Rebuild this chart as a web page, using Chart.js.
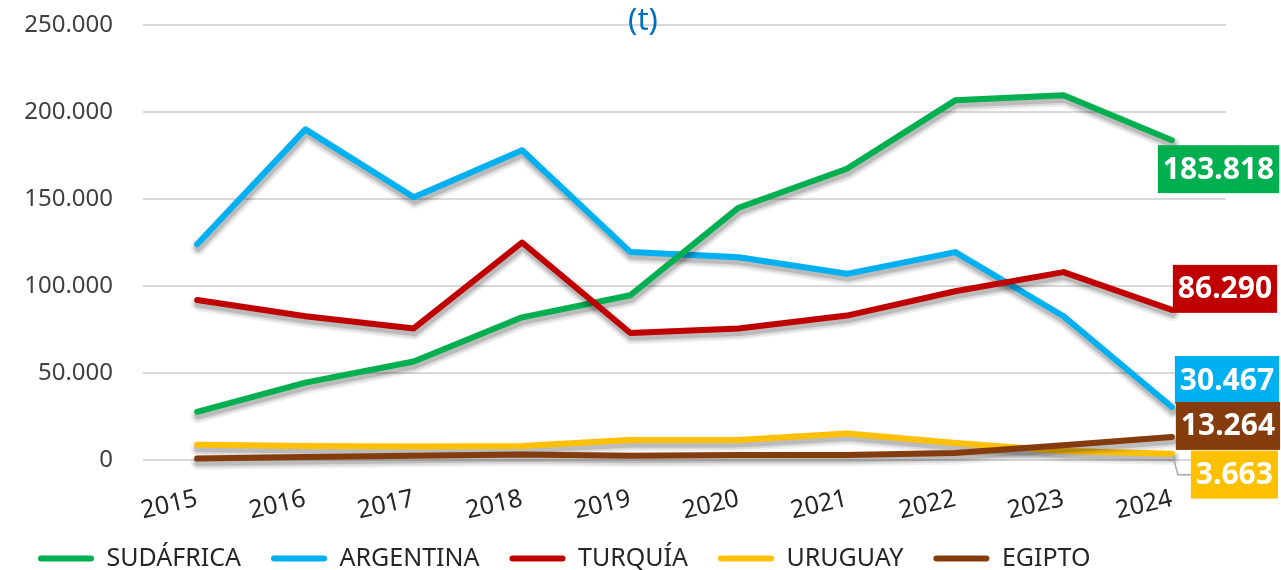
<!DOCTYPE html>
<html><head><meta charset="utf-8">
<script src="https://cdn.jsdelivr.net/npm/chart.js@4/dist/chart.umd.min.js"></script>
<style>html,body{margin:0;padding:0;background:#fff}#wrap{width:1281px;height:570px;position:relative}</style>
</head><body><div id="wrap"><canvas id="c"></canvas></div>
<script>
const years = ['2015','2016','2017','2018','2019','2020','2021','2022','2023','2024'];
const seriesNames = ['SUDÁFRICA','ARGENTINA','TURQUÍA','URUGUAY','EGIPTO'];
const sudafrica = [27700, 44500, 56600, 82000, 94700, 145000, 167400, 206700, 209600, 183818];
const argentina = [124000, 190000, 151000, 178000, 119500, 116500, 107000, 119500, 82600, 30467];
const turquia   = [92000, 82600, 75600, 125000, 73000, 75600, 83000, 97000, 108000, 86290];
const uruguay   = [8800, 8100, 7800, 8100, 11500, 11500, 15200, 9800, 5200, 3663];
const egipto    = [800, 1700, 2500, 3200, 2500, 2900, 2900, 4000, 8500, 13264];
const yTickValues = [0, 50000, 100000, 150000, 200000, 250000];
const unitText = '(t)';

const colors = ['#00B050', '#00B0F0', '#C00000', '#FFC000', '#843C0C'];
const FONT = '"Noto Sans", sans-serif';
const fmt = v => Math.round(v).toString().replace(/\B(?=(\d{3})+(?!\d))/g, '.');

// label box offsets relative to last point (styling only)
const labelOffsets = [
  {dx: -14, dy: 5},
  {dx: 3, dy: -51},
  {dx: 1, dy: -45},
  {dx: 19, dy: -3, leader: true},
  {dx: 4, dy: -35}
];
const drawOrder = [3, 4, 2, 1, 0];

const allSeries = [sudafrica, argentina, turquia, uruguay, egipto];
const datasets = allSeries.map((d, i) => ({
  label: seriesNames[i],
  data: d,
  borderColor: colors[i],
  backgroundColor: colors[i],
  borderWidth: 6,
  pointRadius: 0,
  tension: 0,
  borderCapStyle: 'round',
  borderJoinStyle: 'round',
  order: drawOrder[i],
  clip: false
}));

// soft drop shadow (layered translucent strokes) under each series, following the library's points
const shadowLayers = [{w: 15, a: 0.06}, {w: 11, a: 0.09}, {w: 7, a: 0.15}];
const shadowPlugin = {
  id: 'shadow',
  beforeDatasetDraw(chart, args) {
    const pts = args.meta.data;
    if (!pts || !pts.length) return;
    const ctx = chart.ctx;
    ctx.save();
    ctx.lineJoin = 'round';
    ctx.lineCap = 'round';
    shadowLayers.forEach(l => {
      ctx.strokeStyle = 'rgba(0,0,0,' + l.a + ')';
      ctx.lineWidth = l.w;
      ctx.beginPath();
      pts.forEach((p, i) => i ? ctx.lineTo(p.x + 1, p.y + 4) : ctx.moveTo(p.x + 1, p.y + 4));
      ctx.stroke();
    });
    ctx.restore();
  }
};

const endLabelPlugin = {
  id: 'endLabels',
  afterDatasetsDraw(chart) {
    const ctx = chart.ctx;
    ctx.save();
    ctx.font = 'bold 30px ' + FONT;
    chart.data.datasets.forEach((ds, i) => {
      const meta = chart.getDatasetMeta(i);
      const pt = meta.data[meta.data.length - 1];
      const val = ds.data[ds.data.length - 1];
      const txt = fmt(val);
      const off = labelOffsets[i];
      const w = ctx.measureText(txt).width + 10;
      const h = 48;
      const x = pt.x + off.dx, y = pt.y + off.dy;
      if (off.leader) {
        ctx.strokeStyle = '#A6A6A6';
        ctx.lineWidth = 1.5;
        ctx.beginPath();
        ctx.moveTo(pt.x + 1, pt.y + 2);
        ctx.lineTo(pt.x + 6, y + h / 2);
        ctx.lineTo(x, y + h / 2);
        ctx.stroke();
      }
      ctx.fillStyle = colors[i];
      ctx.fillRect(x, y, w, h);
      ctx.fillStyle = '#FFFFFF';
      ctx.textAlign = 'left';
      ctx.textBaseline = 'middle';
      ctx.fillText(txt, x + 5, y + h / 2 + 1);
    });
    ctx.restore();
  }
};

const unitPlugin = {
  id: 'unitTitle',
  afterDraw(chart) {
    const ctx = chart.ctx;
    ctx.save();
    ctx.font = '31px ' + FONT;
    ctx.fillStyle = '#0070C0';
    ctx.textAlign = 'center';
    ctx.textBaseline = 'alphabetic';
    ctx.fillText(unitText, 643, 30);
    ctx.restore();
  }
};

new Chart(document.getElementById('c'), {
  type: 'line',
  data: { labels: years, datasets },
  plugins: [shadowPlugin, endLabelPlugin, unitPlugin],
  options: {
    responsive: true,
    maintainAspectRatio: false,
    animation: false,
    layout: { padding: { left: 8, right: 55, top: 25, bottom: -11 } },
    plugins: {
      tooltip: { enabled: false },
      title: { display: false },
      legend: {
        position: 'bottom',
        align: 'start',
        labels: {
          boxWidth: 56,
          boxHeight: 6,
          padding: 30,
          color: '#262626',
          font: { family: FONT, size: 25 },
          useBorderRadius: true,
          borderRadius: 3,
          generateLabels(chart) {
            return chart.data.datasets.map((d, i) => ({
              text: d.label, fillStyle: d.borderColor, strokeStyle: d.borderColor,
              lineWidth: 0, hidden: false, datasetIndex: i, borderRadius: 3, fontColor: '#262626'
            }));
          }
        }
      }
    },
    scales: {
      x: {
        offset: true,
        grid: { display: false },
        border: { display: false },
        ticks: {
          color: '#262626',
          font: { family: FONT, size: 25 },
          minRotation: 13, maxRotation: 13,
          padding: 16
        },
        afterFit(scale) {
          scale.height = 56;
          scale._computeLabelArea = () => undefined; // let rotated labels overhang the axis box
        }
      },
      y: {
        min: 0, max: 250000,
        afterBuildTicks(scale) { scale.ticks = yTickValues.map(v => ({ value: v })); },
        grid: { color: '#D9D9D9', lineWidth: 2, drawTicks: true, tickLength: 30, tickColor: 'rgba(0,0,0,0)' },
        border: { display: false },
        ticks: {
          color: '#404040',
          font: { family: FONT, size: 24 },
          padding: 0,
          callback: v => fmt(v)
        },
        afterFit(scale) { scale.width = 135; }
      }
    }
  }
});
</script>
</body></html>
